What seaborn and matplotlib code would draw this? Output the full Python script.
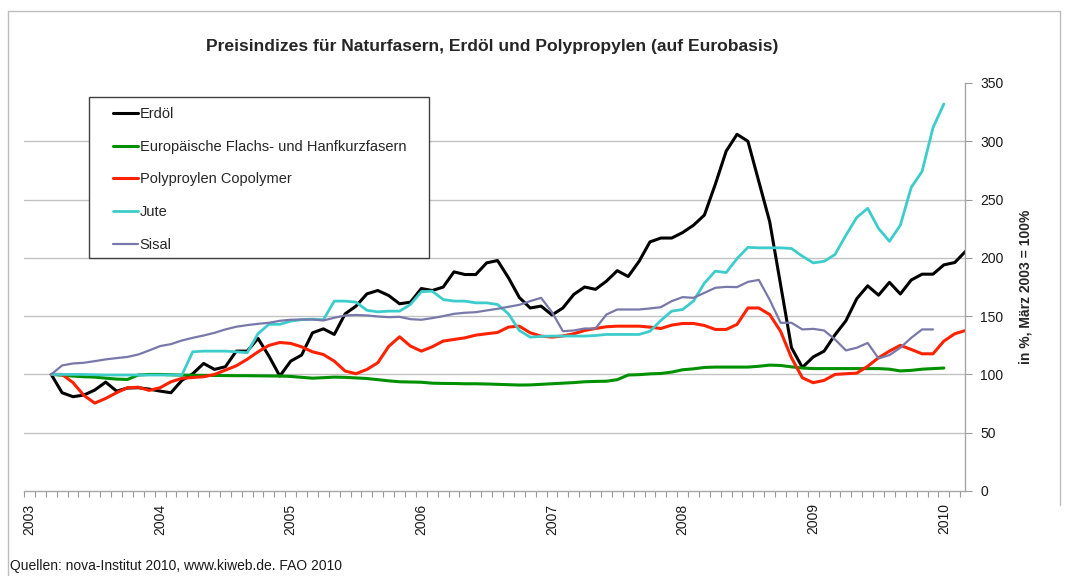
import numpy as np
import pandas as pd
import matplotlib
matplotlib.use("Agg")
import matplotlib.pyplot as plt
from matplotlib.patches import Rectangle
from matplotlib.lines import Line2D
import seaborn as sns

# Monatswerte, Index 0 = März 2003 (= 100 %)
erdoel = [100, 84.3, 80.9, 82.3, 86.6, 93.4, 85.7, 88.3, 88.6, 87.4,
          85.7, 84.3, 94.9, 100.6, 109.4, 104.3, 106.6, 120, 120, 130.9,
          115.7, 98.6, 111.4, 116.6, 135.7, 139.1, 134.3, 152, 158.6, 169.1,
          172, 167.7, 160.6, 162, 173.7, 172, 174.9, 188, 185.7, 185.7,
          195.7, 197.7, 183, 166, 157, 158.6, 151, 157, 168.6, 175,
          173, 180, 189, 184, 197, 213.7, 217, 217, 221.7, 228,
          236.7, 263, 291.5, 306, 300, 265.5, 231, 177, 123, 106,
          115, 120, 134, 146, 165, 176, 168, 179, 169, 181,
          186, 186, 194, 196, 205.7]
flachs = [100, 99.3, 98.6, 98, 97.7, 96.8, 96, 95.7, 99.5, 100,
          100, 99.7, 99.4, 99.3, 99.2, 99.1, 99, 98.9, 98.9, 98.8,
          98.7, 98.6, 98.3, 97.5, 96.8, 97.2, 97.7, 97.5, 97, 96.5,
          95.5, 94.5, 93.7, 93.5, 93.3, 92.5, 92.3, 92.2, 92, 92,
          91.8, 91.5, 91.2, 90.9, 91, 91.5, 92, 92.5, 93, 93.7,
          94, 94.2, 95.5, 99.5, 99.8, 100.5, 100.8, 102, 104, 104.8,
          106, 106.3, 106.3, 106.3, 106.3, 107, 108, 107.7, 106.5, 105.5,
          105, 105, 105, 105, 105, 105, 105, 104.5, 103, 103.5,
          104.5, 105, 105.5]
pp = [100, 100, 93, 82, 75.4, 79.4, 84.3, 88.6, 89, 86.3,
      88.6, 93.7, 96.6, 97.4, 98, 100, 103.7, 107.4, 113, 119.4,
      124.9, 127.4, 126.6, 123.7, 119.4, 117.1, 111.4, 102.9, 100.6, 104.3,
      110, 124, 132.3, 124.3, 120, 123.7, 128.6, 130, 131.4, 133.7,
      134.9, 136, 140.6, 141.4, 135.7, 132.9, 132, 133, 134.9, 137.7,
      139.4, 140.9, 141.4, 141.4, 141.4, 140.6, 139.4, 142.3, 143.7, 143.7,
      142, 138.6, 138.6, 142.9, 157, 157, 151.4, 137, 114.3, 97.1,
      92.9, 94.9, 100, 100.6, 101.1, 107, 114.3, 120, 125, 121.4,
      117.7, 117.7, 128.6, 134.9, 137.7]
jute = [100, 100, 100, 100, 99.7, 99.5, 99.5, 99.5, 99.5, 99.5,
        99.5, 99.5, 99.5, 119.4, 120, 120, 120, 119.4, 118.6, 135,
        143, 143, 145.7, 147, 147.4, 146.9, 162.9, 162.9, 162, 155,
        153.7, 154.3, 154.3, 160, 171, 171.4, 164.3, 162.9, 162.9, 161.4,
        161.4, 160, 152, 137.7, 132, 132.6, 132.9, 132.9, 132.9, 132.9,
        133.4, 134.3, 134.3, 134.3, 134.3, 137, 146.3, 154.3, 155.7, 163,
        178.3, 188.6, 187.4, 199.4, 209, 208.6, 208.6, 208.6, 208, 201.4,
        195.7, 197, 202.9, 219.4, 234.7, 242.5, 225.2, 214.2, 228, 260.4,
        274.2, 311.7, 332]
sisal = [100, 107.7, 109.4, 110, 111.4, 112.9, 114, 115, 117.1, 120.6,
         124.3, 126, 129.1, 131.4, 133.4, 135.7, 138.6, 140.9, 142.3, 143.4,
         144.3, 146, 146.9, 147.1, 147.1, 146.3, 148.6, 150.6, 151, 150.6,
         149.7, 149.1, 149.4, 147.4, 146.9, 148.3, 150, 152, 152.9, 153.4,
         154.9, 156.3, 158, 159.7, 162.9, 165.7, 153.4, 137.1, 137.7, 139.4,
         139.4, 151.4, 155.7, 155.7, 155.7, 156.6, 157.7, 162.9, 166.3, 165.7,
         170, 174.3, 175.1, 174.9, 179.4, 181.1, 164, 144.3, 144.3, 138.6,
         139.1, 137.7, 130, 120.6, 122.9, 127, 113.7, 116.6, 122.9, 131.4,
         138.6, 138.6]

reihen = ["Erdöl", "Europäische Flachs- und Hanfkurzfasern",
          "Polyproylen Copolymer", "Jute", "Sisal"]
farben = ["#000000", "#009000", "#ff2200", "#3dcccc", "#7878aa"]
breiten = [2.2, 2.2, 2.2, 2.0, 1.6]
jahre = ["2003", "2004", "2005", "2006", "2007", "2008", "2009", "2010"]

teile = []
for name, werte in zip(reihen, [erdoel, flachs, pp, jute, sisal]):
    teile.append(pd.DataFrame({"monat": np.arange(len(werte)),
                               "wert": werte, "reihe": name}))
df = pd.concat(teile)

sns.set_theme(style="white")
plt.rcParams["font.family"] = ["Liberation Sans", "DejaVu Sans"]

W, H = 1067, 576
fig = plt.figure(figsize=(W / 100, H / 100), dpi=100)
ax = fig.add_axes([24 / W, 1 - 491 / H, 941 / W, 408 / H])

for name, farbe, lw in zip(reihen, farben, breiten):
    sns.lineplot(data=df[df["reihe"] == name], x="monat", y="wert",
                 color=farbe, linewidth=lw, ax=ax, legend=False)

ax.set_xlim(-2.39, 83.94)
ax.set_ylim(0, 350)
ax.set_xlabel("")
ax.set_ylabel("")

# y-Achse rechts
ax.set_yticks(range(0, 351, 50))
ax.yaxis.tick_right()
ax.tick_params(axis="y", which="major", direction="out", length=5, width=0.8,
               color="#999999", pad=6, labelsize=10, labelcolor="#1a1a1a")
ax.grid(axis="y", color="#c2c2c2", linewidth=1)
ax.get_ygridlines()[-1].set_visible(False)
ax.get_ygridlines()[0].set_visible(False)

# x-Achse: Jahre an Januar, Monatsstriche
ax.set_xticks([-2 + 12 * i for i in range(len(jahre))])
ax.set_xticklabels(jahre, rotation=90)
ax.set_xticks(np.arange(-2.5, 84, 1), minor=True)
ax.tick_params(axis="x", which="major", length=0, pad=9, labelsize=10,
               labelcolor="#1a1a1a")
ax.tick_params(axis="x", which="minor", direction="out", length=4, width=0.8,
               color="#999999", bottom=True)

for s in ["left", "top"]:
    ax.spines[s].set_visible(False)
for s in ["bottom", "right"]:
    ax.spines[s].set_color("#a6a6a6")
    ax.spines[s].set_linewidth(1)

# Legende im Kasten
fig.add_artist(Rectangle((89 / W, 1 - 258 / H), 340 / W, 161 / H,
                         transform=fig.transFigure, facecolor="white",
                         edgecolor="#404040", linewidth=1, zorder=4))
griffe = [Line2D([], [], color=c, lw=lw) for c, lw in zip(farben, breiten)]
fig.legend(griffe, reihen, loc="upper left",
           bbox_to_anchor=(113 / W, 1 - 107 / H), frameon=False, fontsize=10.5,
           handlelength=1.7, handletextpad=0.12, labelspacing=1.28,
           borderpad=0, borderaxespad=0)

fig.text(492 / W, 1 - 46 / H,
         "Preisindizes für Naturfasern, Erdöl und Polypropylen (auf Eurobasis)",
         ha="center", va="center", fontsize=12.6, fontweight="bold")
fig.text(1025 / W, 1 - 287 / H, "in %, März 2003 = 100%", rotation=90,
         ha="center", va="center", fontsize=10, fontweight="bold")
fig.text(10 / W, 1 - 566 / H, "Quellen: nova-Institut 2010, www.kiweb.de. FAO 2010",
         ha="left", va="center", fontsize=10, color="#1a1a1a")

# Rahmen des Diagrammbereichs
rahmen = "#bdbdbd"
fig.add_artist(Line2D([7.5 / W, 7.5 / W], [0, 1 - 10.5 / H], color=rahmen,
                      lw=1, transform=fig.transFigure))
fig.add_artist(Line2D([7.5 / W, 1060 / W], [1 - 10.5 / H, 1 - 10.5 / H],
                      color=rahmen, lw=1, transform=fig.transFigure))
fig.add_artist(Line2D([1060 / W, 1060 / W], [1 - 10.5 / H, 1 - 505 / H],
                      color=rahmen, lw=1, transform=fig.transFigure))

fig.savefig("out.png", dpi=100)
